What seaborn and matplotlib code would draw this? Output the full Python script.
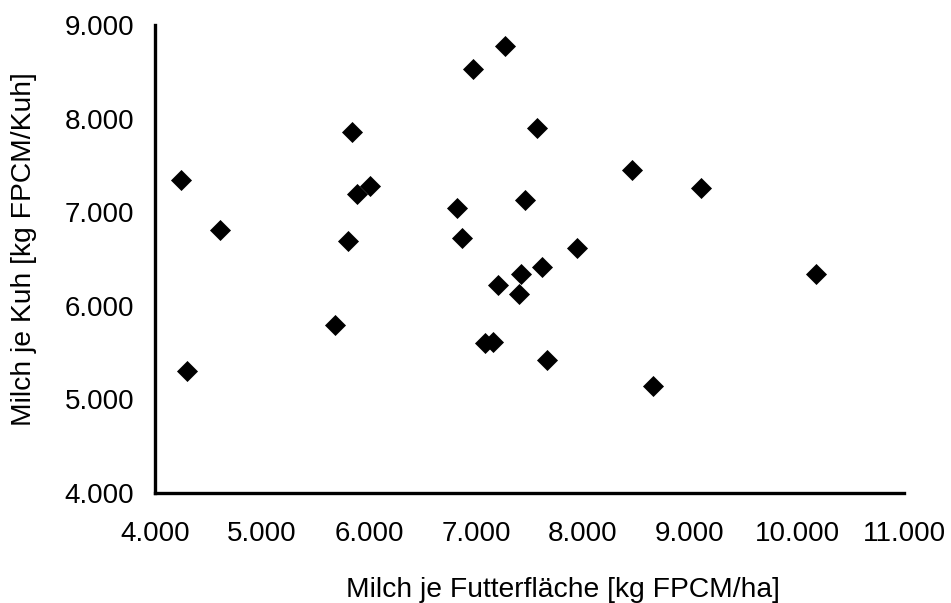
import pandas as pd
import seaborn as sns
import matplotlib.pyplot as plt

# Milch je Futterfläche [kg FPCM/ha] vs. Milch je Kuh [kg FPCM/Kuh]
milch_flaeche = [4240, 4300, 4610, 5680, 5800, 5840, 5890, 6010, 6820, 6870,
                 6970, 7080, 7160, 7210, 7270, 7400, 7420, 7455, 7570, 7620,
                 7660, 7940, 8460, 8650, 9100, 10180]
milch_kuh = [7350, 5300, 6810, 5790, 6690, 7860, 7200, 7280, 7050, 6730,
             8530, 5600, 5615, 6220, 8780, 6130, 6340, 7130, 7900, 6410,
             5420, 6620, 7450, 5145, 7260, 6340]

x_ticks = [4000, 5000, 6000, 7000, 8000, 9000, 10000, 11000]
x_tick_labels = ['4.000', '5.000', '6.000', '7.000', '8.000', '9.000', '10.000', '11.000']
y_ticks = [4000, 5000, 6000, 7000, 8000, 9000]
y_tick_labels = ['4.000', '5.000', '6.000', '7.000', '8.000', '9.000']

df = pd.DataFrame({'flaeche': milch_flaeche, 'kuh': milch_kuh})

sns.set_style('white')
plt.rcParams['font.family'] = ['Liberation Sans', 'DejaVu Sans']

fig = plt.figure(figsize=(9.51, 6.03), dpi=100)
ax = fig.add_axes([0.163, 0.1824, 0.7876, 0.776])

sns.scatterplot(x='flaeche', y='kuh', data=df, ax=ax, marker='D', s=115,
                color='black', edgecolor='black', linewidth=0)

ax.set_xlim(4000, 11000)
ax.set_ylim(4000, 9000)
ax.set_xticks(x_ticks)
ax.set_xticklabels(x_tick_labels)
ax.set_yticks(y_ticks)
ax.set_yticklabels(y_tick_labels)
ax.tick_params(axis='both', direction='out', length=7, width=2.2, color='black',
               labelsize=20, labelcolor='black')
ax.tick_params(axis='x', pad=13)
ax.tick_params(axis='y', pad=8)

for side in ['top', 'right']:
    ax.spines[side].set_visible(False)
for side in ['left', 'bottom']:
    ax.spines[side].set_color('black')
    ax.spines[side].set_linewidth(2.4)

ax.set_xlabel('')
ax.set_ylabel('')
fig.text(563 / 951, 1 - 590 / 603, 'Milch je Futterfläche [kg FPCM/ha]',
         ha='center', va='center', fontsize=20.3, color='black')
fig.text(24 / 951, 1 - 249 / 603, 'Milch je Kuh [kg FPCM/Kuh]',
         ha='center', va='center', rotation=90, fontsize=20.3, color='black')

plt.savefig('out.png', dpi=100, facecolor='white')
